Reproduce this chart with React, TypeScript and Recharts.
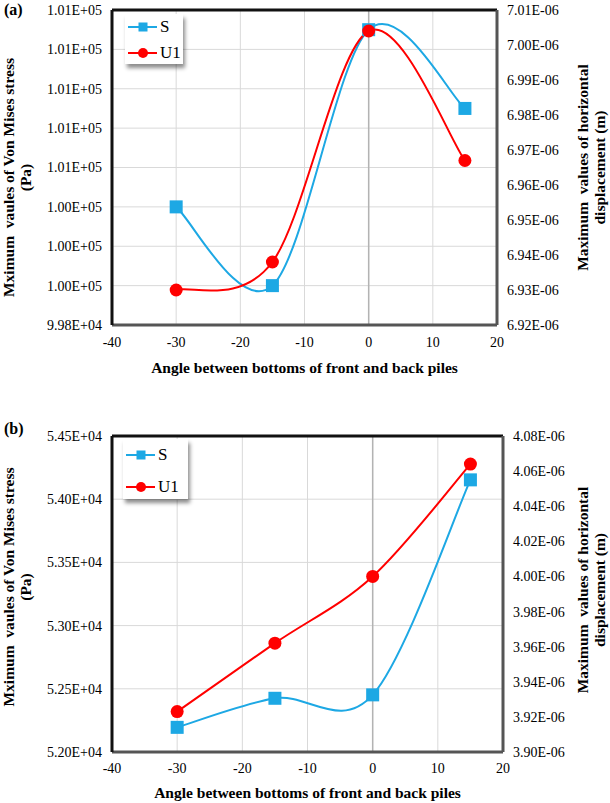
import { LineChart, Line, XAxis, YAxis, CartesianGrid, ReferenceLine, Legend } from 'recharts';

const FONT = '"Liberation Serif", "Times New Roman", serif';
const BLUE = '#1DA8E4';
const RED = '#FF0000';

const angles = [-30, -15, 0, 15];
const xTicks = [-40, -30, -20, -10, 0, 10, 20];
const xTitle = 'Angle between bottoms of front and back piles';
const leftTitle = ['Mximum  vaules of Von Mises stress', '(Pa)'];
const rightTitle = ['Maximum  values of horizontal', 'displacement (m)'];

// panel (a)
const stressA = [100400, 100000, 101300, 100900];
const dispA = [6.930e-6, 6.938e-6, 7.004e-6, 6.967e-6];
const stressTicksA = [99800, 100000, 100200, 100400, 100600, 100800, 101000, 101200, 101400];
const dispTicksA = [6.92e-6, 6.93e-6, 6.94e-6, 6.95e-6, 6.96e-6, 6.97e-6, 6.98e-6, 6.99e-6, 7.0e-6, 7.01e-6];

// panel (b)
const stressB = [52195, 52425, 52452, 54153];
const dispB = [3.923e-6, 3.962e-6, 4.0e-6, 4.064e-6];
const stressTicksB = [52000, 52500, 53000, 53500, 54000, 54500];
const dispTicksB = [3.9e-6, 3.92e-6, 3.94e-6, 3.96e-6, 3.98e-6, 4.0e-6, 4.02e-6, 4.04e-6, 4.06e-6, 4.08e-6];

const rowsOf = (s: number[], u: number[]) => angles.map((angle, i) => ({ angle, s: s[i], u1: u[i] }));

// Excel style 0.00E+00
const sci = (v: number) => {
  const [m, e] = v.toExponential(2).toUpperCase().split('E');
  return `${m}E${e[0]}${e.slice(1).padStart(2, '0')}`;
};

// Excel "smoothed line": Catmull-Rom bezier, end points repeated
function excelSmooth(context: any) {
  let pts: number[][] = [];
  return {
    areaStart() {},
    areaEnd() {},
    lineStart() {
      pts = [];
    },
    point(x: number, y: number) {
      pts.push([+x, +y]);
    },
    lineEnd() {
      const n = pts.length;
      if (!n) return;
      context.moveTo(pts[0][0], pts[0][1]);
      for (let i = 0; i < n - 1; i++) {
        const p0 = pts[Math.max(i - 1, 0)];
        const p1 = pts[i];
        const p2 = pts[i + 1];
        const p3 = pts[Math.min(i + 2, n - 1)];
        context.bezierCurveTo(
          p1[0] + (p2[0] - p0[0]) / 6,
          p1[1] + (p2[1] - p0[1]) / 6,
          p2[0] - (p3[0] - p1[0]) / 6,
          p2[1] - (p3[1] - p1[1]) / 6,
          p2[0],
          p2[1],
        );
      }
    },
  };
}

const tickStyle = { fill: '#000', fontSize: 14, fontFamily: FONT };

function SquareDot(props: any) {
  const { cx, cy, index } = props;
  if (cx == null || cy == null) return <g key={`sq-${index}`} />;
  return <rect key={`sq-${index}`} x={cx - 6.5} y={cy - 6.5} width={13} height={13} fill={BLUE} />;
}

function AxisTitle(props: any) {
  const { viewBox, lines, side, shift } = props;
  const { x, y, width, height } = viewBox;
  const cx = side === 'left' ? x + 9 : x + width - 27;
  const cy = y + height / 2 + shift;
  return (
    <text
      x={cx}
      y={cy}
      transform={`rotate(-90 ${cx} ${cy})`}
      textAnchor="middle"
      fontFamily={FONT}
      fontWeight="bold"
      fontSize={15.5}
      fill="#000"
      style={{ whiteSpace: 'pre', fontFamily: FONT }}
    >
      {lines.map((l: string, i: number) => (
        <tspan key={i} x={cx} dy={i === 0 ? 5 : 17}>{l}</tspan>
      ))}
    </text>
  );
}

function LegendBox(props: any) {
  const { payload, width, height, first, gap } = props;
  return (
    <div
      style={{
        width,
        height,
        background: '#fff',
        boxShadow: '2px 4px 4px rgba(0,0,0,0.45)',
        fontFamily: FONT,
        fontSize: 17,
        color: '#000',
      }}
    >
      {(payload || []).map((e: any, i: number) => (
        <div
          key={e.value}
          style={{
            position: 'relative',
            height: gap,
            marginTop: i === 0 ? first - gap / 2 : 0,
            display: 'flex',
            alignItems: 'center',
          }}
        >
          <svg width={34} height={14} style={{ marginLeft: 3 }}>
            <line x1={0} y1={7} x2={29} y2={7} stroke={e.color} strokeWidth={2} />
            {e.type === 'square' ? (
              <rect x={10.5} y={2.5} width={9} height={9} fill={e.color} />
            ) : (
              <circle cx={15} cy={7} r={5} fill={e.color} />
            )}
          </svg>
          <span style={{ marginLeft: -2 }}>{e.value}</span>
        </div>
      ))}
    </div>
  );
}

interface PanelProps {
  tag: string;
  top: number;
  height: number;
  marginTop: number;
  xAxisHeight: number;
  rightWidth: number;
  tickGap: number;
  titleOffset: number;
  leftShift: number;
  rightShift: number;
  stress: number[];
  disp: number[];
  stressTicks: number[];
  dispTicks: number[];
  legend: { left: number; top: number; width: number; height: number; first: number; gap: number };
  tagTop: number;
}

function Panel(p: PanelProps) {
  const data = rowsOf(p.stress, p.disp);
  const sMax = p.stressTicks[p.stressTicks.length - 1];
  return (
    <div style={{ position: 'absolute', left: 0, top: p.top, width: 610, height: p.height }}>
      <div
        style={{
          position: 'absolute',
          left: 4,
          top: p.tagTop,
          fontFamily: FONT,
          fontWeight: 'bold',
          fontSize: 16,
          lineHeight: '18px',
          zIndex: 2,
        }}
      >
        {p.tag}
      </div>
      <LineChart width={610} height={p.height} data={data} margin={{ top: p.marginTop, right: 0, bottom: 0, left: 0 }}>
        <CartesianGrid yAxisId="left" stroke="#d9d9d9" strokeWidth={1} />
        <XAxis
          dataKey="angle"
          type="number"
          domain={[-40, 20]}
          ticks={xTicks}
          interval={0}
          height={p.xAxisHeight}
          tickLine={false}
          tickSize={0}
          tickMargin={p.tickGap}
          axisLine={{ stroke: '#555', strokeWidth: 3 }}
          tick={tickStyle}
          label={{
            value: xTitle,
            position: 'insideBottom',
            offset: p.titleOffset,
            style: { fontWeight: 'bold', fontSize: 15.5, fontFamily: FONT, fill: '#000' },
          }}
        />
        <YAxis
          yAxisId="left"
          orientation="left"
          width={112}
          domain={[p.stressTicks[0], sMax]}
          ticks={p.stressTicks}
          interval={0}
          tickFormatter={sci}
          tickLine={false}
          tickSize={0}
          tickMargin={10}
          axisLine={{ stroke: '#111', strokeWidth: 3 }}
          tick={tickStyle}
          allowDataOverflow
          label={<AxisTitle lines={leftTitle} side="left" shift={p.leftShift} />}
        />
        <YAxis
          yAxisId="right"
          orientation="right"
          width={p.rightWidth}
          domain={[p.dispTicks[0], p.dispTicks[p.dispTicks.length - 1]]}
          ticks={p.dispTicks}
          interval={0}
          tickFormatter={sci}
          tickLine={false}
          tickSize={0}
          tickMargin={10}
          axisLine={{ stroke: '#555', strokeWidth: 3 }}
          tick={tickStyle}
          allowDataOverflow
          label={<AxisTitle lines={rightTitle} side="right" shift={p.rightShift} />}
        />
        <ReferenceLine yAxisId="left" x={0} stroke="#b3b3b3" strokeWidth={1.5} />
        <ReferenceLine yAxisId="left" y={sMax} stroke="#111" strokeWidth={3} />
        <Legend
          layout="vertical"
          align="center"
          verticalAlign="middle"
          wrapperStyle={{ left: p.legend.left, top: p.legend.top, width: 'auto' }}
          content={
            <LegendBox width={p.legend.width} height={p.legend.height} first={p.legend.first} gap={p.legend.gap} />
          }
        />
        <Line
          yAxisId="left"
          dataKey="s"
          name="S"
          type={excelSmooth as any}
          stroke={BLUE}
          strokeWidth={2}
          dot={SquareDot}
          activeDot={false}
          legendType="square"
          isAnimationActive={false}
        />
        <Line
          yAxisId="right"
          dataKey="u1"
          name="U1"
          type={excelSmooth as any}
          stroke={RED}
          strokeWidth={2}
          dot={{ r: 6.5, fill: RED, stroke: RED, strokeWidth: 0 }}
          activeDot={false}
          legendType="circle"
          isAnimationActive={false}
        />
      </LineChart>
    </div>
  );
}

export default function App() {
  return (
    <div
      style={{
        position: 'absolute',
        left: 0,
        top: 0,
        width: 610,
        height: 803,
        background: '#fff',
        fontFamily: FONT,
      }}
    >
      <style>{`.recharts-wrapper text { font-family: "Liberation Serif", "Times New Roman", serif; }`}</style>
      <Panel
        tag="(a)"
        tagTop={1}
        top={0}
        height={380}
        marginTop={10}
        xAxisHeight={55}
        rightWidth={113}
        tickGap={12}
        titleOffset={7}
        leftShift={10}
        rightShift={0}
        stress={stressA}
        disp={dispA}
        stressTicks={stressTicksA}
        dispTicks={dispTicksA}
        legend={{ left: 125, top: 17, width: 58, height: 50, first: 10, gap: 26 }}
      />
      <Panel
        tag="(b)"
        tagTop={0}
        top={420}
        height={383}
        marginTop={16}
        xAxisHeight={51}
        rightWidth={107}
        tickGap={11}
        titleOffset={5}
        leftShift={-7}
        rightShift={-4}
        stress={stressB}
        disp={dispB}
        stressTicks={stressTicksB}
        dispTicks={dispTicksB}
        legend={{ left: 123, top: 23, width: 65, height: 60, first: 12, gap: 32 }}
      />
    </div>
  );
}
